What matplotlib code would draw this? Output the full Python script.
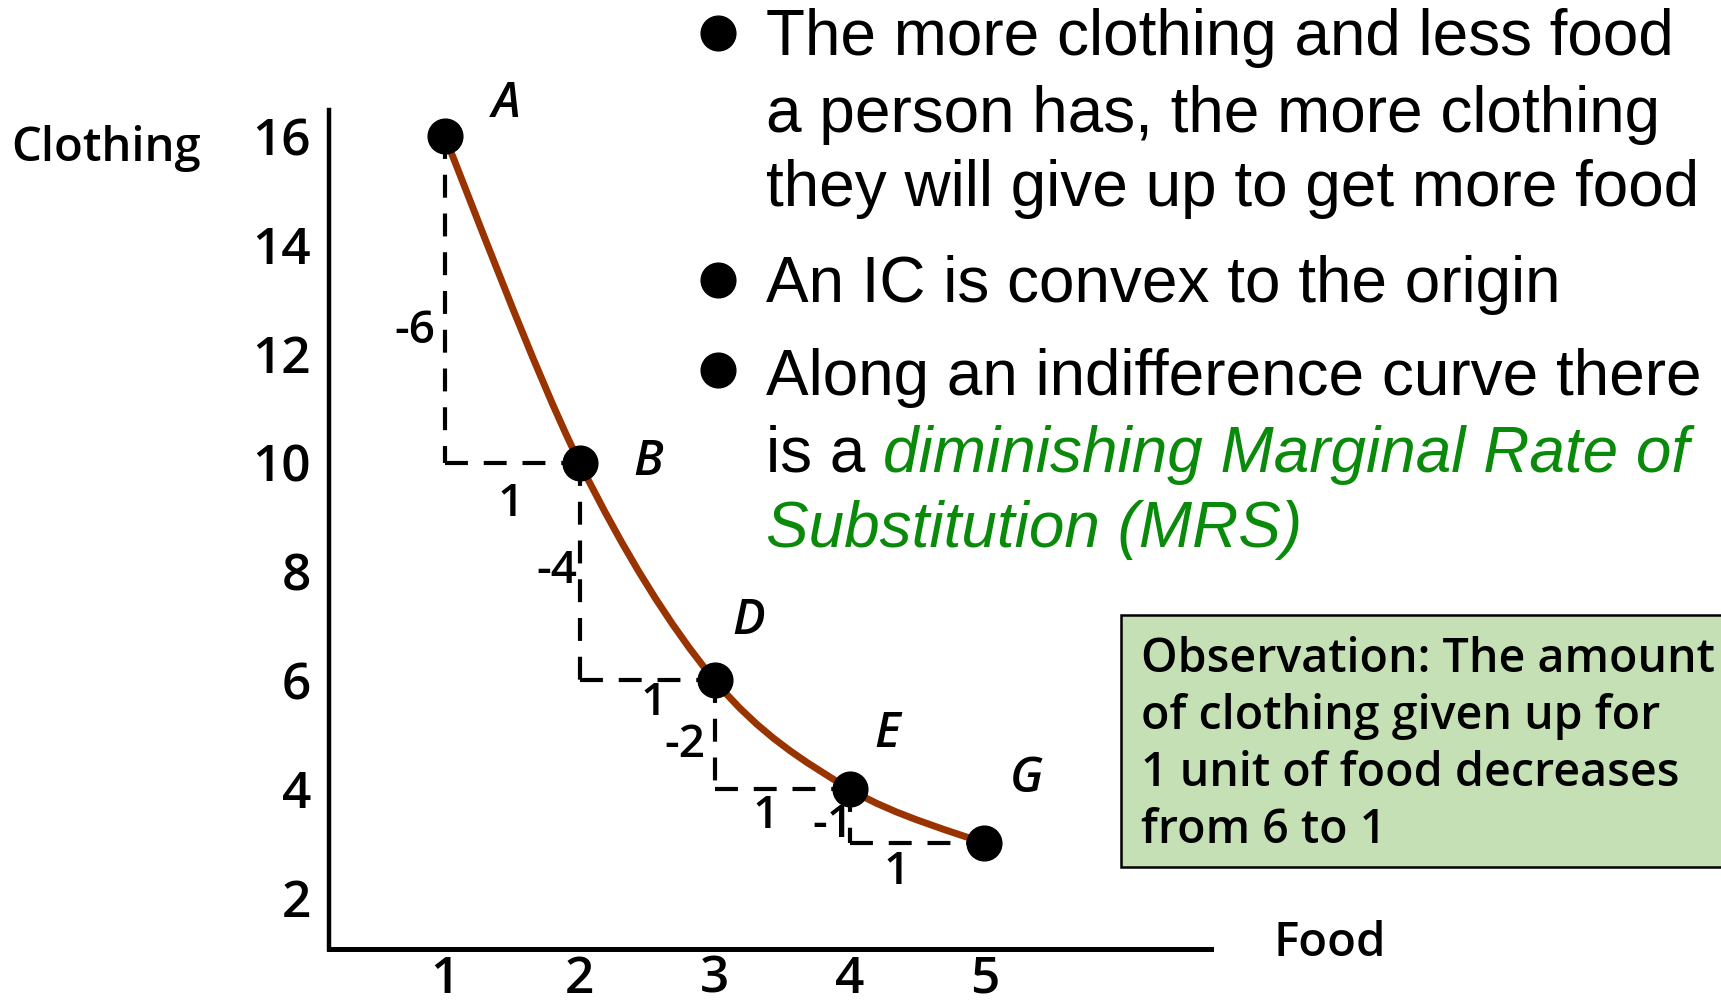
import matplotlib
matplotlib.use('Agg')
import matplotlib.pyplot as plt
from matplotlib.path import Path
from matplotlib.patches import PathPatch, Rectangle
from matplotlib.lines import Line2D

# bundles on the indifference curve
point_names = ['A', 'B', 'D', 'E', 'G']
food = [1, 2, 3, 4, 5]
clothing = [16, 10, 6, 4, 3]

# clothing given up / food gained between neighbouring bundles
clothing_change = ['-6', '-4', '-2', '-1']
food_change = ['1', '1', '1', '1']

xticks = [1, 2, 3, 4, 5]
yticks = [2, 4, 6, 8, 10, 12, 14, 16]

bullet_items = [
    ["The more clothing and less food",
     "a person has, the more clothing",
     "they will give up to get more food"],
    ["An IC is convex to the origin"],
    ["Along an indifference curve there", "is a ", "Substitution (MRS)"],
]
green_words = "diminishing Marginal Rate of"

obs_lines = ["Observation: The amount",
             "of clothing given up for",
             "1 unit of food decreases",
             "from 6 to 1"]

W, H = 1721, 1002
CURVE = '#993300'
GREEN = '#0a8a0a'
BOX = '#c5e0b4'
SANS = ['Open Sans', 'DejaVu Sans']
ARIAL = ['Liberation Sans', 'DejaVu Sans']


def fx(px):
    return px / W


def fy(py):
    return 1 - py / H


fig = plt.figure(figsize=(W / 100, H / 100), dpi=100)
ax = fig.add_axes([fx(329), fy(949), fx(1211) - fx(329), fy(110) - fy(949)])
ax.set_xlim(0.144, 6.678)
ax.set_ylim(1.059, 16.48)

for s in ['top', 'right']:
    ax.spines[s].set_visible(False)
ax.spines['left'].set_linewidth(3.2)
ax.spines['bottom'].set_linewidth(3.6)
ax.set_xticks(xticks)
ax.set_yticks(yticks)
ax.tick_params(axis='both', length=0)
ax.tick_params(axis='y', pad=13)
ax.tick_params(axis='x', pad=4)
for lab in ax.get_xticklabels() + ax.get_yticklabels():
    lab.set_fontfamily(SANS)
    lab.set_fontsize(37)
    lab.set_fontweight('semibold')

# dashed step triangles between bundles
dash_style = dict(color='black', lw=3.0, dashes=(5.5, 3.8), zorder=2)
vlabel_off = [(-0.22, -0.6), (-0.17, 0.0), (-0.22, -0.2), (-0.12, -0.17)]
hlabel_off = [(-0.01, -0.78), (0.05, -0.42), (-0.12, -0.5), (-0.15, -0.53)]
for i in range(len(food) - 1):
    x0, y0 = food[i], clothing[i]
    x1, y1 = food[i + 1], clothing[i + 1]
    ax.plot([x0, x0], [y0, y1], **dash_style)
    ax.plot([x0, x1], [y1, y1], **dash_style)
    dx, dy = vlabel_off[i]
    ax.text(x0 + dx, (y0 + y1) / 2 + dy, clothing_change[i], fontsize=33,
            ha='center', va='center', family=SANS, weight='semibold')
    dx, dy = hlabel_off[i]
    ax.text((x0 + x1) / 2 + dx, y1 + dy, food_change[i], fontsize=33,
            ha='center', va='center', family=SANS, weight='semibold')

# smooth curve through the bundles (Catmull-Rom as cubic Bezier segments)
pts = list(zip(food, clothing))
verts = [pts[0]]
codes = [Path.MOVETO]
for i in range(len(pts) - 1):
    p0 = pts[i - 1] if i > 0 else pts[i]
    p1, p2 = pts[i], pts[i + 1]
    p3 = pts[i + 2] if i + 2 < len(pts) else pts[i + 1]
    c1 = (p1[0] + (p2[0] - p0[0]) / 6, p1[1] + (p2[1] - p0[1]) / 6)
    c2 = (p2[0] - (p3[0] - p1[0]) / 6, p2[1] - (p3[1] - p1[1]) / 6)
    verts += [c1, c2, p2]
    codes += [Path.CURVE4] * 3
ax.add_patch(PathPatch(Path(verts, codes), fill=False, edgecolor=CURVE,
                       lw=5.0, capstyle='round', zorder=3))
ax.plot(food, clothing, 'o', color='black', markersize=25, zorder=4)

name_off = [(0.46, 0.58), (0.51, 0.0), (0.25, 1.07), (0.28, 1.0), (0.31, 1.18)]
for name, x, y, (dx, dy) in zip(point_names, food, clothing, name_off):
    ax.text(x + dx, y + dy, name, fontsize=35, style='italic', family=SANS,
            weight='semibold', ha='center', va='center', clip_on=False)

# axis titles
fig.text(fx(11), fy(148), 'Clothing', fontsize=34, family=SANS,
         weight='semibold', ha='left', va='center')
fig.text(fx(1273), fy(944), 'Food', fontsize=34, family=SANS,
         weight='semibold', ha='left', va='center')

# bullet list
bullet_y = [33, 280, 370]
line_y = [[55, 132, 206], [302], [395, 472, 547]]
for k, (by, ly, lines) in enumerate(zip(bullet_y, line_y, bullet_items)):
    fig.add_artist(Line2D([fx(718)], [fy(by)], marker='o', markersize=25,
                          color='black', transform=fig.transFigure))
    for j, (y, txt) in enumerate(zip(ly, lines)):
        italic_green = (k == 2 and j == 2)
        t = fig.text(fx(766), fy(y), txt, fontsize=46, family=ARIAL,
                     ha='left', va='baseline',
                     color=GREEN if italic_green else 'black',
                     style='italic' if italic_green else 'normal')
        if k == 2 and j == 1:
            fig.canvas.draw()
            bb = t.get_window_extent(renderer=fig.canvas.get_renderer())
            fig.text(bb.x1 / W, fy(y), green_words, fontsize=46,
                     family=ARIAL, style='italic', color=GREEN,
                     ha='left', va='baseline')

# observation box running off the right edge
fig.add_artist(Rectangle((fx(1121), fy(867)), fx(1760) - fx(1121),
                         fy(615) - fy(867), transform=fig.transFigure,
                         facecolor=BOX, edgecolor='black', lw=1.8))
for y, txt in zip([672, 729, 786, 843], obs_lines):
    fig.text(fx(1141), fy(y), txt, fontsize=33.5, family=SANS,
             weight='semibold', ha='left', va='baseline')

fig.savefig('out.png', dpi=100)
